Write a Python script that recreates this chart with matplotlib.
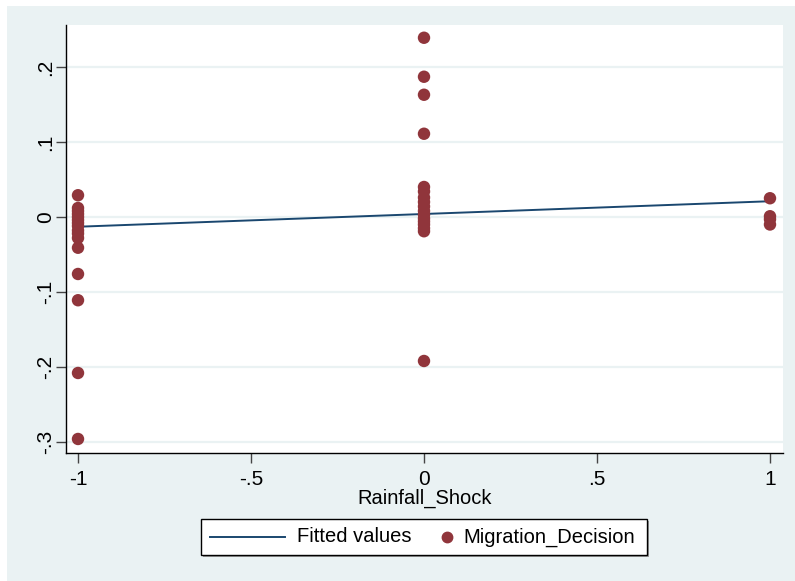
import matplotlib
matplotlib.use('Agg')
import matplotlib.pyplot as plt
from matplotlib.patches import Rectangle
from matplotlib.lines import Line2D

# data
shock_neg = [-1] * 16
mig_neg = [0.029, 0.012, 0.008, 0.004, 0.0, -0.004, -0.008, -0.012, -0.018,
           -0.022, -0.028, -0.041, -0.076, -0.111, -0.208, -0.296]

shock_zero = [0] * 17
mig_zero = [0.239, 0.187, 0.163, 0.111, 0.040, 0.034, 0.026, 0.020, 0.014,
            0.008, 0.003, -0.002, -0.006, -0.010, -0.015, -0.019, -0.192]

shock_pos = [1, 1, 1, 1]
mig_pos = [0.025, 0.001, -0.003, -0.010]

fit_x = [-1, 1]
fit_y = [-0.013, 0.021]

x_ticks = [-1, -0.5, 0, 0.5, 1]
x_labels = ['-1', '-.5', '0', '.5', '1']
y_ticks = [-0.3, -0.2, -0.1, 0, 0.1, 0.2]
y_labels = ['-.3', '-.2', '-.1', '0', '.1', '.2']
legend_labels = ['Fitted values', 'Migration_Decision']

bg = '#eaf2f3'
navy = '#1a476f'
maroon = '#90353b'
plt.rcParams['font.family'] = ['Liberation Sans', 'DejaVu Sans']
fs = 14.5

W, H = 795, 581
fig = plt.figure(figsize=(W / 100, H / 100), dpi=100, facecolor='white')
fig.patches.append(Rectangle((7 / W, 0), 1, 1 - 6 / H, transform=fig.transFigure,
                             facecolor=bg, edgecolor='none', zorder=-10))

ax = fig.add_axes([66 / W, 1 - 453 / H, 717 / W, 428 / H])
ax.set_facecolor('white')

xs = shock_neg + shock_zero + shock_pos
ys = mig_neg + mig_zero + mig_pos
ax.plot(fit_x, fit_y, color=navy, lw=1.4, zorder=3)
ax.scatter(xs, ys, s=80, color=maroon, edgecolors='none', zorder=4)

ax.set_xlim(-1.0347, 1.0376)
ax.set_ylim(-0.3147, 0.256)
ax.set_xticks(x_ticks)
ax.set_xticklabels(x_labels)
ax.set_yticks(y_ticks)
ax.set_yticklabels(y_labels, rotation=90, va='center')
ax.grid(axis='y', color=bg, lw=1.6, zorder=0)
ax.set_axisbelow(True)

for s in ['top', 'right']:
    ax.spines[s].set_visible(False)
for s in ['left', 'bottom']:
    ax.spines[s].set_color('black')
    ax.spines[s].set_linewidth(1.0)
ax.tick_params(axis='both', length=7, width=1, color='#444444', labelsize=fs + 0.5)
ax.tick_params(axis='y', pad=1)
ax.tick_params(axis='x', pad=5)
ax.set_xlabel('Rainfall_Shock', fontsize=fs, labelpad=0)

# legend box drawn by hand (Stata style)
def fx(px):
    return px / W

def fy(py):
    return 1 - py / H

fig.patches.append(Rectangle((fx(203), fy(557)), fx(446), 36 / H, transform=fig.transFigure,
                             facecolor='#9a9a9a', edgecolor='none', zorder=1))
fig.patches.append(Rectangle((fx(201), fy(555)), fx(446), 36 / H, transform=fig.transFigure,
                             facecolor='white', edgecolor='black', lw=1.0, zorder=2))
fig.lines.append(Line2D([fx(210), fx(285)], [fy(537), fy(537)], transform=fig.transFigure,
                        color=navy, lw=1.4, zorder=3))
fig.lines.append(Line2D([fx(447)], [fy(537)], transform=fig.transFigure, marker='o',
                        ls='none', color=maroon, markersize=7.5, zorder=3))
fig.text(fx(297), fy(537), legend_labels[0], fontsize=fs, va='center', ha='left', zorder=3)
fig.text(fx(463), fy(537), legend_labels[1], fontsize=fs, va='center', ha='left', zorder=3)

fig.savefig('out.png', dpi=100, facecolor=fig.get_facecolor())
